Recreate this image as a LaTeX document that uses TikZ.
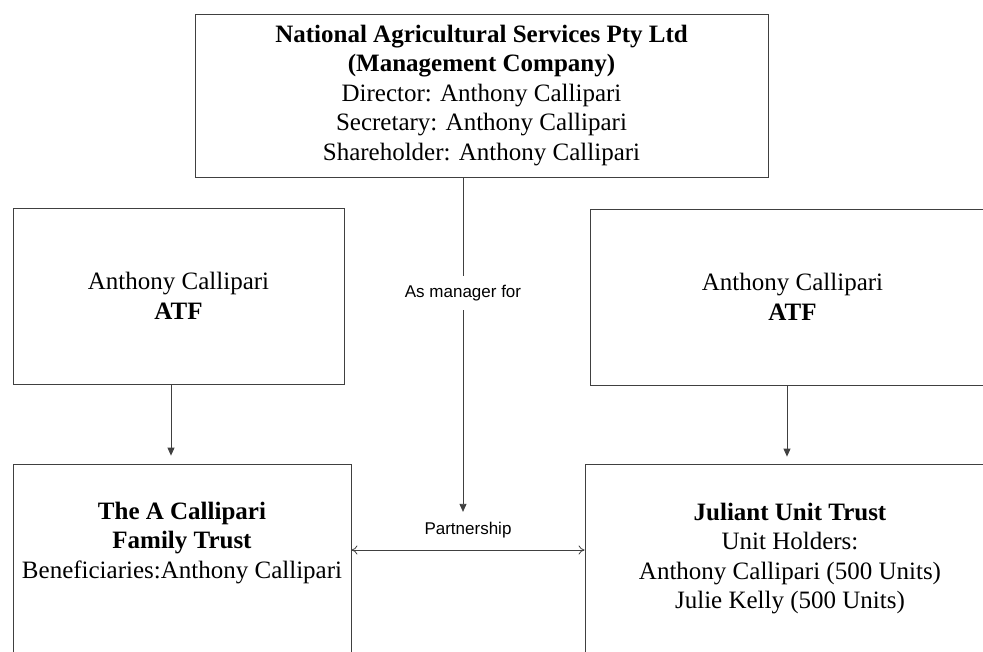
\documentclass[tikz,border=0pt]{standalone}
\usepackage{fontspec}
\setmainfont{Liberation Serif}
\newfontfamily\lblfont{Liberation Sans}
\usetikzlibrary{arrows.meta, positioning}

\begin{document}
\begin{tikzpicture}[x=1pt, y=-1pt, font=\fontsize{25}{29.5}\selectfont,
    >={Triangle[length=8pt, width=7pt]},
    link/.style={draw=black!75, line width=0.8pt},
    box/.style={link, align=center, inner sep=0pt},
    boxtext/.style={align=center, inner sep=0pt},
    lbl/.style={font=\lblfont\fontsize{17}{20}\selectfont, inner sep=2pt}]
    \useasboundingbox (0,0) rectangle (983,652);
    \clip (0,0) rectangle (983,652);

    \node[box, minimum width=573, minimum height=163] (mgmt) at (481.5,95.5)
        {\textbf{National Agricultural Services Pty Ltd}\\\textbf{(Management Company)}\\Director: Anthony Callipari\\Secretary: Anthony Callipari\\Shareholder: Anthony Callipari};
    \node[box, minimum width=331, minimum height=176] (ltrustee) at (178.5,296) {Anthony Callipari\\\textbf{ATF}};
    \node[box, minimum width=405, minimum height=176] (rtrustee) at (792.5,297) {Anthony Callipari\\\textbf{ATF}};
    \node[box, minimum width=338, minimum height=206] (lfamily) at (182,567) {};
    \node[box, minimum width=415, minimum height=206] (rjuliant) at (792.5,567) {};
    \node[boxtext] (lfamilytext) at (182,543) {\textbf{The A Callipari}\\\textbf{Family Trust}\\Beneficiaries:Anthony Callipari};
    \node[boxtext] (rjulianttext) at (790,558.5) {\textbf{Juliant Unit Trust}\\Unit Holders:\\Anthony Callipari (500 Units)\\Julie Kelly (500 Units)};
    \node[lbl] (partner) at (468,530) {Partnership};

    \coordinate (mx) at (463,0);
    \coordinate (lx) at (171,0);
    \coordinate (rx) at (787,0);

    \draw[link, ->, shorten >=8pt] (mgmt.south -| mx) -- node[lbl, pos=0.338, fill=white, inner ysep=9pt] (asmanager) {As manager for} (partner.north -| mx);
    \draw[link, ->, shorten >=8pt] (ltrustee.south -| lx) -- (lfamily.north -| lx);
    \draw[link, ->, shorten >=7pt] (rtrustee.south -| rx) -- (rjuliant.north -| rx);
    \draw[link, {To[length=6pt, width=9pt]}-{To[length=6pt, width=9pt]}] ([yshift=17pt]lfamily.east) -- ([yshift=17pt]rjuliant.west);
\end{tikzpicture}
\end{document}
